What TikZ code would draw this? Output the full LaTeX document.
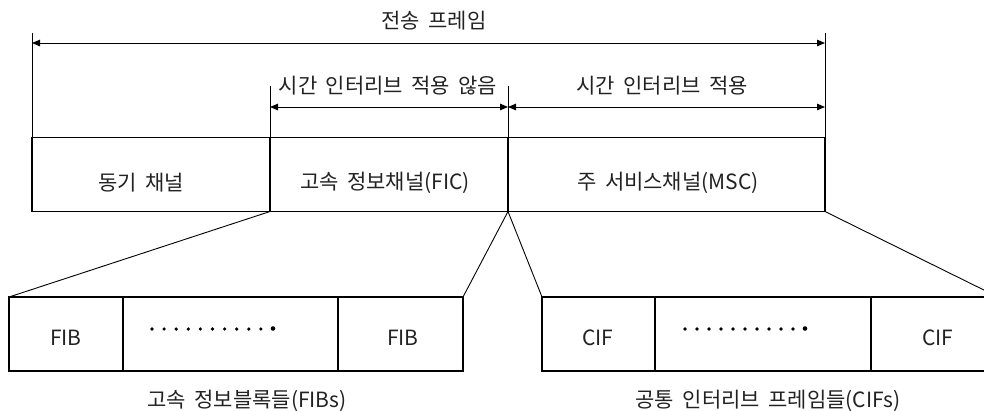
\documentclass[tikz,border=0pt]{standalone}
\usepackage{fontspec}
\setmainfont{Noto Sans CJK KR}[WordSpace=1.8]
\usetikzlibrary{arrows.meta}
\definecolor{ink}{HTML}{222222}
\begin{document}
\begin{tikzpicture}[x=1pt,y=-1pt,
  box/.style={draw, line width=1.8pt, minimum height=74pt, inner sep=0pt, outer sep=0pt},
  thinline/.style={line width=0.9pt},
  dim/.style={line width=1pt, {Triangle[length=8pt,width=6.5pt]}-{Triangle[length=8pt,width=6.5pt]}},
  lbl/.style={font=\fontsize{21pt}{24pt}\selectfont, text=ink, inner sep=0pt},
  ]
\useasboundingbox (0,0) rectangle (984,410);
\clip (0,0) rectangle (984,410);

% top boxes
\node[box, minimum width=238pt] (sync) at (151,174.5) {};
\node[box, minimum width=238pt] (fic) at (389,174.5) {};
\node[box, minimum width=317pt] (msc) at (666.5,174.5) {};
\node[lbl] (tsync) at (141,183) {동기 채널};
\node[lbl] (tfic) at (385,183) {고속 정보채널(FIC)};
\node[lbl] (tmsc) at (668,183) {주 서비스채널(MSC)};

% extension lines
\coordinate (eA) at (32,33);
\coordinate (eB) at (825,33);
\coordinate (eC) at (270,86);
\coordinate (eD) at (508,86);
\draw[thinline] (eA) -- (sync.north west);
\draw[thinline] (eB) -- (msc.north east);
\draw[thinline] (eC) -- (fic.north west);
\draw[thinline] (eD) -- (fic.north east);

% dimension arrows
\coordinate (a1) at (32,43);
\coordinate (a2) at (825,43);
\coordinate (b1) at (270,107);
\coordinate (b2) at (508,107);
\coordinate (b3) at (825,107);
\draw[dim] (a1) -- (a2);
\draw[dim] (b1) -- (b2);
\draw[dim] (b2) -- (b3);
\node[lbl] (ttrans) at (434,21) {전송 프레임};
\node[lbl] (tnoti) at (388,86) {시간 인터리브 적용 않음};
\node[lbl] (tti) at (662,86) {시간 인터리브 적용};

% bottom left group
\node[box, minimum width=114pt] (fib1) at (66,334) {};
\node[box, minimum width=215pt] (fib2) at (230.5,334) {};
\node[box, minimum width=125pt] (fib3) at (400.5,334) {};
\node[lbl] (tfib1) at (66,338) {FIB};
\node[lbl] (tfib3) at (403,338) {FIB};
\foreach \i in {0,...,9} \fill (152+12.1*\i,329) circle (1.8pt);
\fill (273,328.5) circle (2.3pt);
\node[lbl] (tfibs) at (247,401) {고속 정보블록들(FIBs)};

% bottom right group
\node[box, minimum width=113pt] (cif1) at (598.5,334) {};
\node[box, minimum width=216pt] (cif2) at (763,334) {};
\node[box, minimum width=127pt] (cif3) at (934.5,334) {};
\node[lbl] (tcif1) at (598,338) {CIF};
\node[lbl] (tcif3) at (938,338) {CIF};
\foreach \i in {0,...,9} \fill (685+12*\i,329) circle (1.8pt);
\fill (805,328.5) circle (2.3pt);
\node[lbl] (tcifs) at (768,401) {공통 인터리브 프레임들(CIFs)};

% connectors
\draw[thinline] (fic.south west) -- (fib1.north west);
\draw[thinline] (fic.south east) -- (fib3.north east);
\draw[thinline] (msc.south west) -- (cif1.north west);
\draw[thinline] (msc.south east) -- (cif3.north east);
\end{tikzpicture}
\end{document}
